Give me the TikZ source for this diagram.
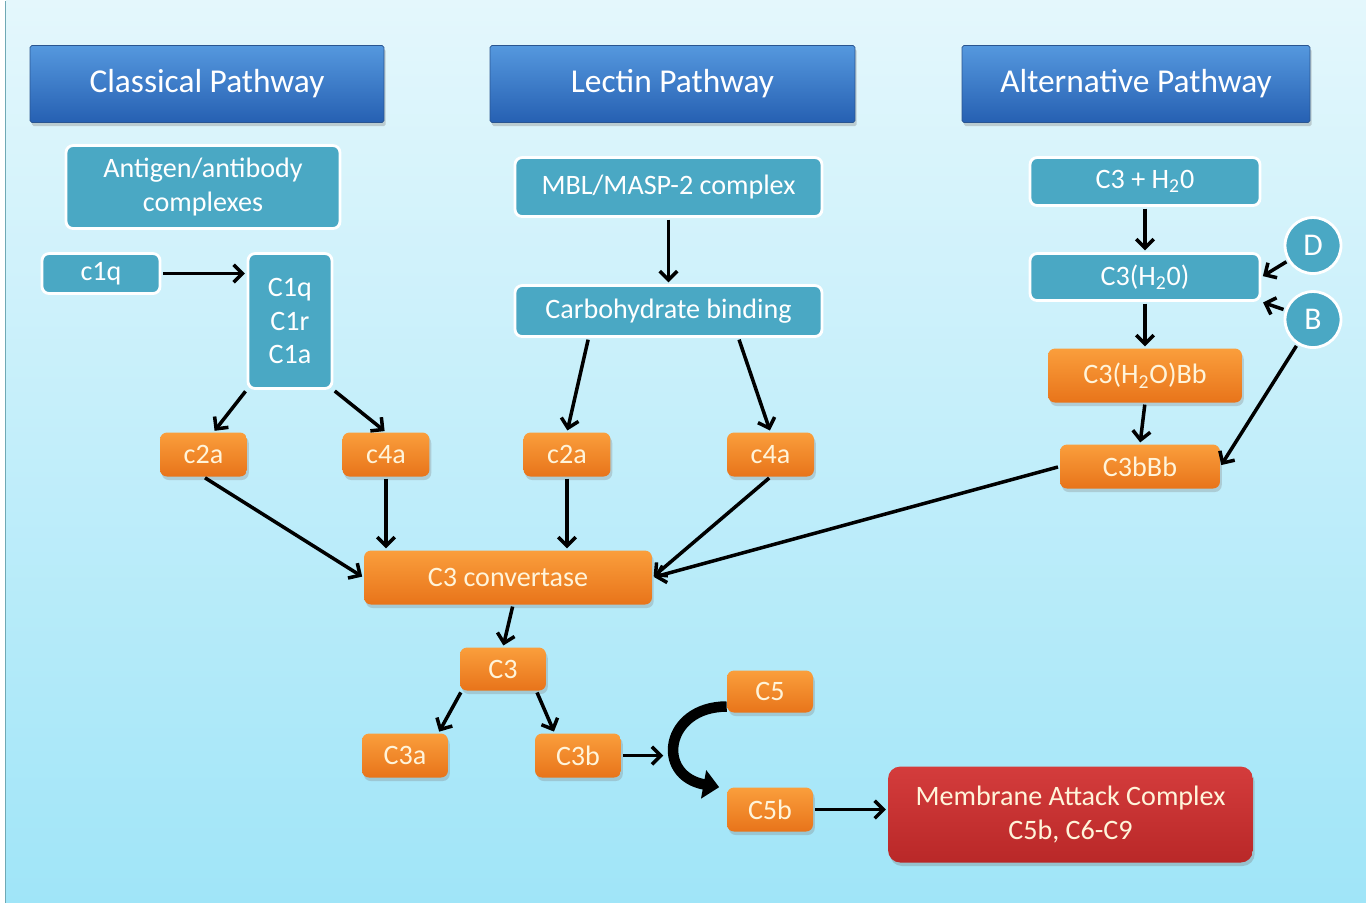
\documentclass[tikz,border=0pt]{standalone}
\usepackage{fontspec}
\setmainfont{Carlito}
\usetikzlibrary{arrows.meta,shadows}
\definecolor{bgtop}{HTML}{E4F7FC}
\definecolor{bgbot}{HTML}{A0E5F8}
\definecolor{hdtop}{HTML}{5598DE}
\definecolor{hdbot}{HTML}{2660B2}
\definecolor{hdline}{HTML}{2A5590}
\definecolor{tealfill}{HTML}{4AA8C4}
\definecolor{ortop}{HTML}{FA9E3C}
\definecolor{orbot}{HTML}{E8741A}
\definecolor{ortext}{HTML}{FFF4DA}
\definecolor{redtop}{HTML}{D43C3C}
\definecolor{redbot}{HTML}{B92828}
\definecolor{edgeline}{HTML}{6FA9B5}
\begin{document}
\begin{tikzpicture}[x=0.02cm,y=-0.02cm]
	\tikzset{box/.style = {rounded corners=4pt, align=center, inner sep=0pt, font=\fontsize{16}{19}\selectfont}}
	\tikzset{headbox/.style = {box, rounded corners=1pt, minimum height=1.54cm, top color=hdtop, bottom color=hdbot, draw=hdline, text=white, font=\fontsize{19}{23}\selectfont, drop shadow={opacity=0.35, shadow xshift=1pt, shadow yshift=-2pt}}}
	\tikzset{tealbox/.style = {box, fill=tealfill, draw=white, line width=1.6pt, text=white}}
	\tikzset{orangebox/.style = {box, top color=ortop, bottom color=orbot, text=ortext, drop shadow={opacity=0.3, shadow xshift=1pt, shadow yshift=-2pt}}}
	\tikzset{redbox/.style = {box, rounded corners=7pt, top color=redtop, bottom color=redbot, text=ortext, drop shadow={opacity=0.35, shadow xshift=1pt, shadow yshift=-2pt}}}
	\tikzset{factor/.style = {circle, fill=tealfill, draw=white, line width=1.6pt, text=white, minimum size=1.12cm, inner sep=0pt, font=\fontsize{18}{21}\selectfont}}
	\tikzset{edge/.style = {-{Straight Barb[length=5pt,width=10pt]}, line width=2pt, shorten >=1pt, shorten <=1pt}}
	% Background
	\fill[white] (0,0) rectangle (1366,902);
	\shade[top color=bgtop, bottom color=bgbot] (6,0) rectangle (1366,902);
	\draw[edgeline, line width=0.6pt] (5.5,0) -- (5.5,902);
	\useasboundingbox (0,0) rectangle (1366,902);
	% Headers
	\node[headbox, minimum width=7.08cm] (cp) at (207,83.5) {Classical Pathway};
	\node[headbox, minimum width=7.3cm] (lp) at (672.5,83.5) {Lectin Pathway};
	\node[headbox, minimum width=6.96cm] (ap) at (1136,83.5) {Alternative Pathway};
	% Classical pathway
	\node[tealbox, minimum width=5.48cm, minimum height=1.66cm] (ag) at (203,186.5) {Antigen/antibody\\complexes};
	\node[tealbox, minimum width=2.36cm, minimum height=0.8cm] (cq) at (101,273) {c1q};
	\node[tealbox, minimum width=1.68cm, minimum height=2.7cm] (C1) at (290,320.5) {C1q\\C1r\\C1a};
	\node[orangebox, minimum width=1.74cm, minimum height=0.88cm] (ca) at (203.5,454) {c2a};
	\node[orangebox, minimum width=1.74cm, minimum height=0.88cm] (cb) at (386,454) {c4a};
	% Lectin pathway
	\node[tealbox, minimum width=6.14cm, minimum height=1.18cm] (mbl) at (668.5,186.5) {MBL/MASP-2 complex};
	\node[tealbox, minimum width=6.14cm, minimum height=1.02cm] (carb) at (668.5,310.5) {Carbohydrate binding};
	\node[orangebox, minimum width=1.74cm, minimum height=0.88cm] (lca) at (567,454) {c2a};
	\node[orangebox, minimum width=1.74cm, minimum height=0.88cm] (lcb) at (770.5,454) {c4a};
	% Alternative pathway
	\node[tealbox, minimum width=4.6cm, minimum height=0.96cm] (h2o) at (1145,181) {C3 + H\textsubscript{2}0};
	\node[tealbox, minimum width=4.6cm, minimum height=0.94cm] (ch2o) at (1145,276.5) {C3(H\textsubscript{2}0)};
	\node[factor] (D) at (1313,245) {D};
	\node[factor] (B) at (1313,319) {B};
	\node[orangebox, minimum width=3.88cm, minimum height=1.08cm] (bbh2o) at (1145,375) {C3(H\textsubscript{2}O)Bb};
	\node[orangebox, minimum width=3.2cm, minimum height=0.88cm] (bb) at (1140,466) {C3bBb};
	% Common pathway
	\node[orangebox, minimum width=5.76cm, minimum height=1.08cm] (conv) at (508,577) {C3 convertase};
	\node[orangebox, minimum width=1.72cm, minimum height=0.86cm] (C3) at (503,668.5) {C3};
	\node[orangebox, minimum width=1.72cm, minimum height=0.88cm] (C3a) at (405,755) {C3a};
	\node[orangebox, minimum width=1.72cm, minimum height=0.88cm] (C3b) at (578,755) {C3b};
	\node[orangebox, minimum width=1.72cm, minimum height=0.84cm] (C5) at (770,691) {C5};
	\node[orangebox, minimum width=1.72cm, minimum height=0.88cm] (C5b) at (770,809) {C5b};
	\node[redbox, minimum width=7.3cm, minimum height=1.92cm] (mac) at (1070.5,814) {Membrane Attack Complex\\C5b, C6-C9};
	\coordinate (meet) at (665,755);
	% Arrows
	\draw[edge] (cq) -- (cq -| C1.west);
	\draw[edge] (C1.south west) -- ([xshift=0.2cm]ca.north);
	\draw[edge] (C1.south east) -- (cb.north);
	\draw[edge] (ca.south) -- (conv.west);
	\draw[edge] (cb.south) -- (cb.south |- conv.north);
	\draw[edge] (mbl) -- (carb);
	\draw[edge] ([xshift=-1.6cm]carb.south) -- (lca.north);
	\draw[edge] ([xshift=1.4cm]carb.south) -- (lcb.north);
	\draw[edge] (lca.south) -- (lca.south |- conv.north);
	\draw[edge] (lcb.south) -- (conv.east);
	\draw[edge] (h2o) -- (ch2o);
	\draw[edge] (D) -- (ch2o.east);
	\draw[edge] (B) -- (ch2o.south east);
	\draw[edge] (ch2o) -- (bbh2o);
	\draw[edge] (bbh2o.south) -- (bb.north);
	\draw[edge] (B) -- (bb.east);
	\draw[edge] (bb.west) -- (conv.east);
	\draw[edge] ([xshift=0.1cm]conv.south) -- (C3.north);
	\draw[edge] ([xshift=0.04cm]C3.south west) -- ([xshift=-0.2cm]C3a.north east);
	\draw[edge] ([xshift=-0.2cm]C3.south east) -- ([xshift=0.4cm]C3b.north west);
	\draw[edge] (C3b.east) -- (meet);
	\draw[line width=6pt, -{Triangle[length=9pt,width=16pt]}] ([yshift=-0.3cm]C5.west) .. controls (665,706) and (655,775) .. ([xshift=-0.15cm]C5b.north west);
	\draw[edge] (C5b) -- (C5b -| mac.west);
\end{tikzpicture}
\end{document}
